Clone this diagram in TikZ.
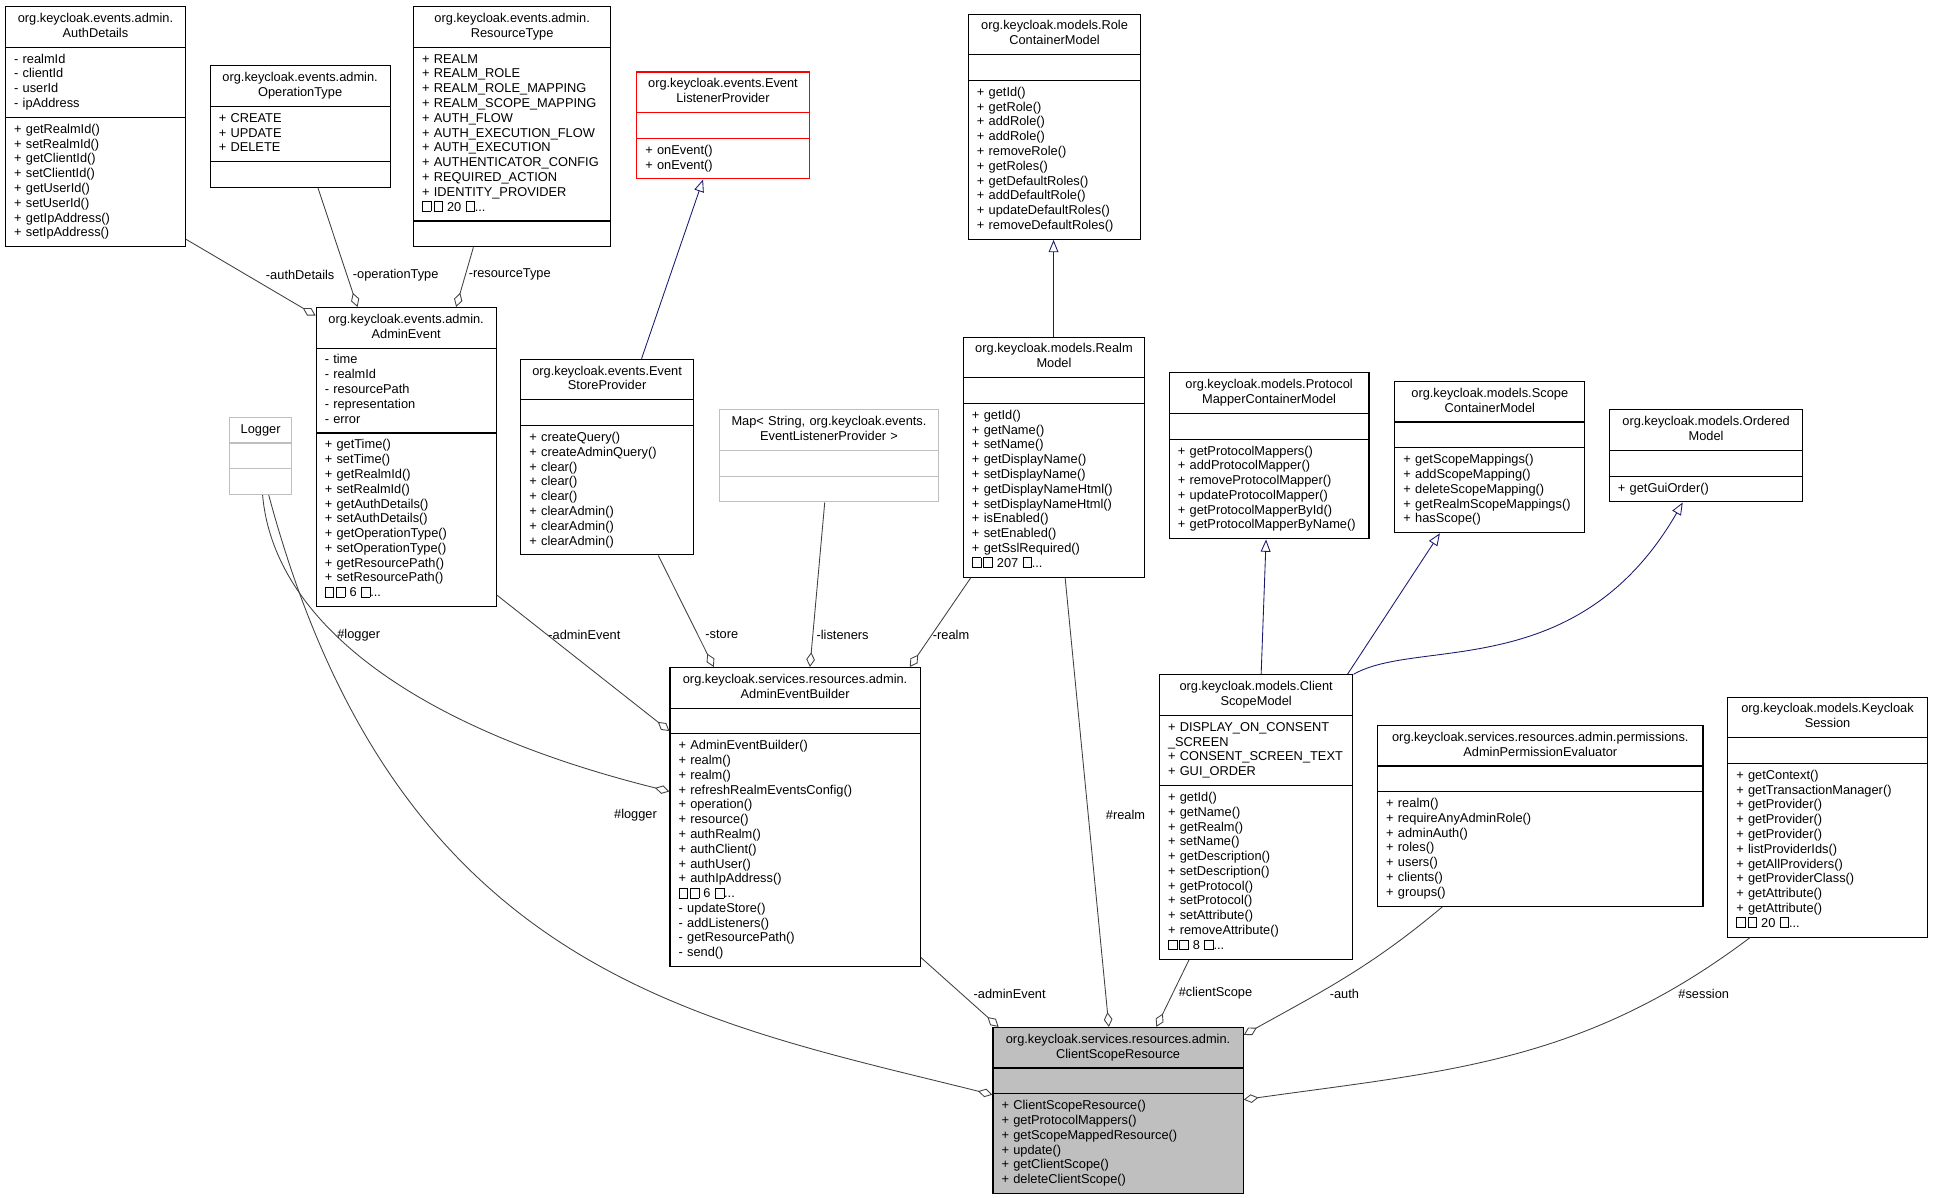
\documentclass[tikz,border=0pt]{standalone}
\usepackage{fontspec}
\setmainfont{Liberation Sans}
\usetikzlibrary{shapes.multipart, arrows.meta}
\definecolor{aggline}{HTML}{404040}
\definecolor{inhline}{HTML}{191970}
\definecolor{faded}{HTML}{BFBFBF}
\definecolor{focus}{HTML}{BFBFBF}
\setlength{\parindent}{0pt}
\newcommand{\clsfont}{\fontsize{10.4}{12}\selectfont}
\newcommand{\tofu}{{\setlength{\fboxsep}{0pt}\setlength{\fboxrule}{0.5pt}\fbox{\rule{0pt}{7.5pt}\hspace{6.5pt}}}}
\newcommand{\ttlone}[1]{\makebox[\hsize]{\strut#1}}
\newcommand{\ttl}[2]{\makebox[\hsize]{\strut#1}\\\makebox[\hsize]{#2\strut}}
\tikzstyle{cls} = [draw=black, fill=white, line width=0.9pt, rectangle split, rectangle split parts=3, inner xsep=7pt, inner ysep=4pt, align=left, anchor=north west, font=\clsfont]
\tikzstyle{extcls} = [cls, draw=faded]
\tikzstyle{agg} = [draw=aggline, line width=0.7pt, -{Diamond[open, length=12pt, width=7pt]}]
\tikzstyle{inh} = [draw=inhline, line width=0.7pt, -{Triangle[open, length=10pt, width=8pt]}]
\tikzstyle{lbl} = [font=\clsfont, inner sep=1pt]

\begin{document}
\begin{tikzpicture}[x=1pt,y=1pt]
    \useasboundingbox (0,0) rectangle (1568,-971);
    \node[cls, text width=132pt] (ad) at (4,-5) {\ttl{org.keycloak.events.admin.}{AuthDetails}
        \nodepart{two}\strut - realmId\\- clientId\\- userId\\- ipAddress\strut
        \nodepart{three}\strut + getRealmId()\\+ setRealmId()\\+ getClientId()\\+ setClientId()\\+ getUserId()\\+ setUserId()\\+ getIpAddress()\\+ setIpAddress()\strut};
    \node[cls, text width=132pt] (ot) at (170,-53) {\ttl{org.keycloak.events.admin.}{OperationType}
        \nodepart{two}\strut + CREATE\\+ UPDATE\\+ DELETE\strut
        \nodepart{three}\strut};
    \node[cls, text width=146pt] (rt) at (335,-5) {\ttl{org.keycloak.events.admin.}{ResourceType}
        \nodepart{two}\strut +~REALM\\+~REALM\_ROLE\\+~REALM\_ROLE\_MAPPING\\+~REALM\_SCOPE\_MAPPING\\+~AUTH\_FLOW\\+~AUTH\_EXECUTION\_FLOW\\+~AUTH\_EXECUTION\\+~AUTHENTICATOR\_CONFIG\\+~REQUIRED\_ACTION\\+~IDENTITY\_PROVIDER\\\tofu\,\tofu~20 \tofu...\strut
        \nodepart{three}\strut};
    \node[cls, draw=red, text width=126pt] (elp) at (516,-58) {\ttl{org.keycloak.events.Event}{ListenerProvider}
        \nodepart{two}\strut
        \nodepart{three}\strut + onEvent()\\+ onEvent()\strut};
    \node[cls, text width=126pt] (rcm) at (785,-11) {\ttl{org.keycloak.models.Role}{ContainerModel}
        \nodepart{two}\strut
        \nodepart{three}\strut + getId()\\+ getRole()\\+ addRole()\\+ addRole()\\+ removeRole()\\+ getRoles()\\+ getDefaultRoles()\\+ addDefaultRole()\\+ updateDefaultRoles()\\+ removeDefaultRoles()\strut};
    \node[cls, text width=132pt] (ae) at (256,-249) {\ttl{org.keycloak.events.admin.}{AdminEvent}
        \nodepart{two}\strut - time\\- realmId\\- resourcePath\\- representation\\- error\strut
        \nodepart{three}\strut + getTime()\\+ setTime()\\+ getRealmId()\\+ setRealmId()\\+ getAuthDetails()\\+ setAuthDetails()\\+ getOperationType()\\+ setOperationType()\\+ getResourcePath()\\+ setResourcePath()\\\tofu\,\tofu~6 \tofu...\strut};
    \node[cls, text width=126pt] (esp) at (422,-291) {\ttl{org.keycloak.events.Event}{StoreProvider}
        \nodepart{two}\strut
        \nodepart{three}\strut + createQuery()\\+ createAdminQuery()\\+ clear()\\+ clear()\\+ clear()\\+ clearAdmin()\\+ clearAdmin()\\+ clearAdmin()\strut};
    \node[extcls, text width=36pt] (lg) at (186,-338) {\ttlone{Logger}
        \nodepart{two}\strut
        \nodepart{three}\strut};
    \node[extcls, text width=164pt] (map) at (583,-332) {\ttl{Map< String, org.keycloak.events.}{EventListenerProvider >}
        \nodepart{two}\strut
        \nodepart{three}\strut};
    \node[cls, text width=133pt] (rm) at (781,-273) {\ttl{org.keycloak.models.Realm}{Model}
        \nodepart{two}\strut
        \nodepart{three}\strut + getId()\\+ getName()\\+ setName()\\+ getDisplayName()\\+ setDisplayName()\\+ getDisplayNameHtml()\\+ setDisplayNameHtml()\\+ isEnabled()\\+ setEnabled()\\+ getSslRequired()\\\tofu\,\tofu~207 \tofu...\strut};
    \node[cls, text width=148pt] (pmcm) at (948,-302) {\ttl{org.keycloak.models.Protocol}{MapperContainerModel}
        \nodepart{two}\strut
        \nodepart{three}\strut + getProtocolMappers()\\+ addProtocolMapper()\\+ removeProtocolMapper()\\+ updateProtocolMapper()\\+ getProtocolMapperById()\\+ getProtocolMapperByName()\strut};
    \node[cls, text width=140pt] (scm) at (1131,-309) {\ttl{org.keycloak.models.Scope}{ContainerModel}
        \nodepart{two}\strut
        \nodepart{three}\strut + getScopeMappings()\\+ addScopeMapping()\\+ deleteScopeMapping()\\+ getRealmScopeMappings()\\+ hasScope()\strut};
    \node[cls, text width=143pt] (om) at (1305,-332) {\ttl{org.keycloak.models.Ordered}{Model}
        \nodepart{two}\strut
        \nodepart{three}\strut + getGuiOrder()\strut};
    \node[cls, text width=189pt] (aeb) at (543,-541) {\ttl{org.keycloak.services.resources.admin.}{AdminEventBuilder}
        \nodepart{two}\strut
        \nodepart{three}\strut + AdminEventBuilder()\\+ realm()\\+ realm()\\+ refreshRealmEventsConfig()\\+ operation()\\+ resource()\\+ authRealm()\\+ authClient()\\+ authUser()\\+ authIpAddress()\\\tofu\,\tofu~6 \tofu...\\- updateStore()\\- addListeners()\\- getResourcePath()\\- send()\strut};
    \node[cls, text width=143pt] (csm) at (940,-547) {\ttl{org.keycloak.models.Client}{ScopeModel}
        \nodepart{two}\strut +~DISPLAY\_ON\_CONSENT\\\_SCREEN\\+~CONSENT\_SCREEN\_TEXT\\+~GUI\_ORDER\strut
        \nodepart{three}\strut + getId()\\+ getName()\\+ getRealm()\\+ setName()\\+ getDescription()\\+ setDescription()\\+ getProtocol()\\+ setProtocol()\\+ setAttribute()\\+ removeAttribute()\\\tofu\,\tofu~8 \tofu...\strut};
    \node[cls, text width=250pt] (ape) at (1117,-588) {\ttl{org.keycloak.services.resources.admin.permissions.}{AdminPermissionEvaluator}
        \nodepart{two}\strut
        \nodepart{three}\strut + realm()\\+ requireAnyAdminRole()\\+ adminAuth()\\+ roles()\\+ users()\\+ clients()\\+ groups()\strut};
    \node[cls, text width=148pt] (ks) at (1401,-565) {\ttl{org.keycloak.models.Keycloak}{Session}
        \nodepart{two}\strut
        \nodepart{three}\strut + getContext()\\+ getTransactionManager()\\+ getProvider()\\+ getProvider()\\+ getProvider()\\+ listProviderIds()\\+ getAllProviders()\\+ getProviderClass()\\+ getAttribute()\\+ getAttribute()\\\tofu\,\tofu~20 \tofu...\strut};
    \node[cls, fill=focus, text width=189pt] (csr) at (805,-833) {\ttl{org.keycloak.services.resources.admin.}{ClientScopeResource}
        \nodepart{two}\strut
        \nodepart{three}\strut + ClientScopeResource()\\+ getProtocolMappers()\\+ getScopeMappedResource()\\+ update()\\+ getClientScope()\\+ deleteClientScope()\strut};
    \draw[agg] ([yshift=6.5pt]ad.south east) -- ([yshift=-7pt]ae.north west);
    \draw[agg] ([xshift=88pt]ot.south west) -- ([xshift=34pt]ae.north west);
    \draw[agg] ([xshift=49pt]rt.south west) -- ([xshift=114pt]ae.north west);
    \draw[agg] ([yshift=10pt]ae.south east) -- ([yshift=-52pt]aeb.north west);
    \draw[agg] ([xshift=112pt]esp.south west) -- ([xshift=36pt]aeb.north west);
    \draw[agg] ([xshift=86pt]map.south west) -- ([xshift=114pt]aeb.north west);
    \draw[agg] ([xshift=6.5pt]rm.south west) -- ([xshift=195pt]aeb.north west);
    \draw[agg] ([xshift=27pt]lg.south west) .. controls +(-85:100pt) and +(166:220pt) .. ([yshift=-101pt]aeb.north west);
    \draw[agg] ([xshift=32pt]lg.south west) .. controls +(-75:400pt) and +(166:250pt) .. ([yshift=-55pt]csr.north west);
    \draw[agg] ([yshift=8pt]aeb.south east) -- ([xshift=5pt]csr.north west);
    \draw[agg] ([xshift=83pt]rm.south west) -- ([xshift=94.5pt]csr.north west);
    \draw[agg] ([xshift=24.5pt]csm.south west) -- ([xshift=133pt]csr.north west);
    \draw[agg] ([xshift=53pt]ape.south west) to[out=-140,in=29] ([yshift=-6.5pt]csr.north east);
    \draw[agg] ([xshift=18.5pt]ks.south west) to[out=-143,in=8] ([yshift=-59pt]csr.north east);
    \draw[inh] ([xshift=98.4pt]esp.north west) -- ([xshift=54.3pt]elp.south west);
    \draw[inh] ([xshift=73.6pt]rm.north west) -- ([xshift=69.6pt]rcm.south west);
    \draw[inh] ([xshift=83pt]csm.north west) -- ([xshift=79pt]pmcm.south west);
    \draw[inh] ([xshift=153pt]csm.north west) -- ([xshift=37pt]scm.south west);
    \draw[inh] (csm.north east) .. controls +(30:60pt) and +(240:170pt) .. ([xshift=60pt]om.south west);
    \node[lbl] (lad) at (243.5,-223) {-authDetails};
    \node[lbl] (lot) at (321,-223) {-operationType};
    \node[lbl] (lrt) at (413.5,-223) {-resourceType};
    \node[lbl] (llg1) at (291,-515) {\#logger};
    \node[lbl] (lae) at (474,-515) {-adminEvent};
    \node[lbl] (lesp) at (585.5,-515) {-store};
    \node[lbl] (lmap) at (683.5,-515) {-listeners};
    \node[lbl] (lrm1) at (771.5,-515) {-realm};
    \node[lbl] (llg2) at (515.5,-661) {\#logger};
    \node[lbl] (lrm2) at (913,-661) {\#realm};
    \node[lbl] (laeb) at (819,-806) {-adminEvent};
    \node[lbl] (lcsm) at (986,-806) {\#clientScope};
    \node[lbl] (lape) at (1090.5,-806) {-auth};
    \node[lbl] (lks) at (1382,-806) {\#session};
\end{tikzpicture}
\end{document}
